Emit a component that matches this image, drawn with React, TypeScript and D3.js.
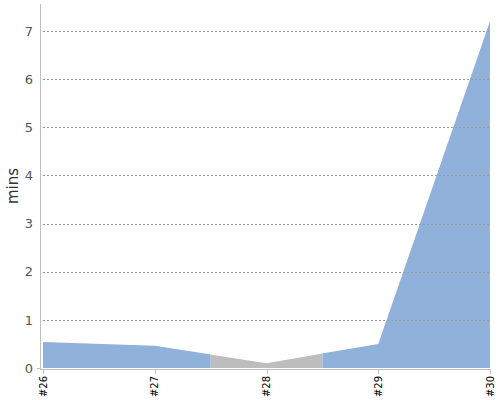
import React from "react";
import * as d3 from "d3";

const builds = ["#26", "#27", "#28", "#29", "#30"];
const durations = [0.54, 0.46, 0.1, 0.5, 7.2];
const status = ["ok", "ok", "fail", "ok", "ok"];
const yTicks = [0, 1, 2, 3, 4, 5, 6, 7];
const yLabel = "mins";

const W = 500;
const H = 400;
const okColor = "#8fb1da";
const failColor = "#bdbdbd";

export default function App() {
  const x = d3.scaleLinear().domain([0, builds.length - 1]).range([43, 490]);
  const y = d3.scaleLinear().domain([0, 7.56]).range([368, 4]);
  const idx = builds.map((_, i) => i);
  const area = d3
    .area<number>()
    .x((i) => x(i))
    .y0(y(0))
    .y1((i) => y(durations[i]));
  const path = area(idx) || "";

  // merge consecutive builds with the same status into one colour zone
  const zones: { from: number; to: number; color: string }[] = [];
  idx.forEach((i) => {
    const color = status[i] === "ok" ? okColor : failColor;
    const from = Math.max(0, i - 0.5);
    const to = Math.min(builds.length - 1, i + 0.5);
    const last = zones[zones.length - 1];
    if (last && last.color === color) last.to = to;
    else zones.push({ from, to, color });
  });

  return (
    <svg
      width={W}
      height={H}
      style={{ position: "absolute", left: 0, top: 0, background: "#fff" }}
      fontFamily="DejaVu Sans, sans-serif"
    >
      <defs>
        {zones.map((z, i) => (
          <clipPath id={`zone${i}`} key={i}>
            <rect x={x(z.from)} y={0} width={x(z.to) - x(z.from)} height={H} />
          </clipPath>
        ))}
      </defs>
      {zones.map((z, i) => (
        <path key={i} d={path} fill={z.color} clipPath={`url(#zone${i})`} />
      ))}
      {yTicks
        .filter((t) => t > 0)
        .map((t) => (
          <line
            key={t}
            x1={43}
            x2={490}
            y1={Math.round(y(t)) + 0.5}
            y2={Math.round(y(t)) + 0.5}
            stroke="#9a9a9a"
            strokeWidth={1}
            strokeDasharray="2,2"
          />
        ))}
      <line x1={40.5} x2={40.5} y1={4} y2={370} stroke="#c0c0c0" strokeWidth={1} />
      <line x1={37} x2={40} y1={368.5} y2={368.5} stroke="#c0c0c0" strokeWidth={1} />
      <line x1={41} x2={491} y1={369.5} y2={369.5} stroke="#c0c0c0" strokeWidth={1} />
      {idx.map((i) => (
        <line
          key={i}
          x1={Math.round(x(i)) + 0.5}
          x2={Math.round(x(i)) + 0.5}
          y1={370}
          y2={374}
          stroke="#c0c0c0"
          strokeWidth={1}
        />
      ))}
      {yTicks.map((t) => (
        <text
          key={t}
          x={33}
          y={y(t)}
          dy="0.36em"
          textAnchor="end"
          fontSize={13}
          fill="#555"
        >
          {t}
        </text>
      ))}
      {idx.map((i) => (
        <text
          key={i}
          transform={`translate(${x(i) + 3.5},376) rotate(-90)`}
          textAnchor="end"
          fontSize={10}
          fill="#000"
        >
          {builds[i]}
        </text>
      ))}
      <text
        transform={`translate(18,186) rotate(-90)`}
        textAnchor="middle"
        fontSize={15}
        fill="#333"
      >
        {yLabel}
      </text>
    </svg>
  );
}
